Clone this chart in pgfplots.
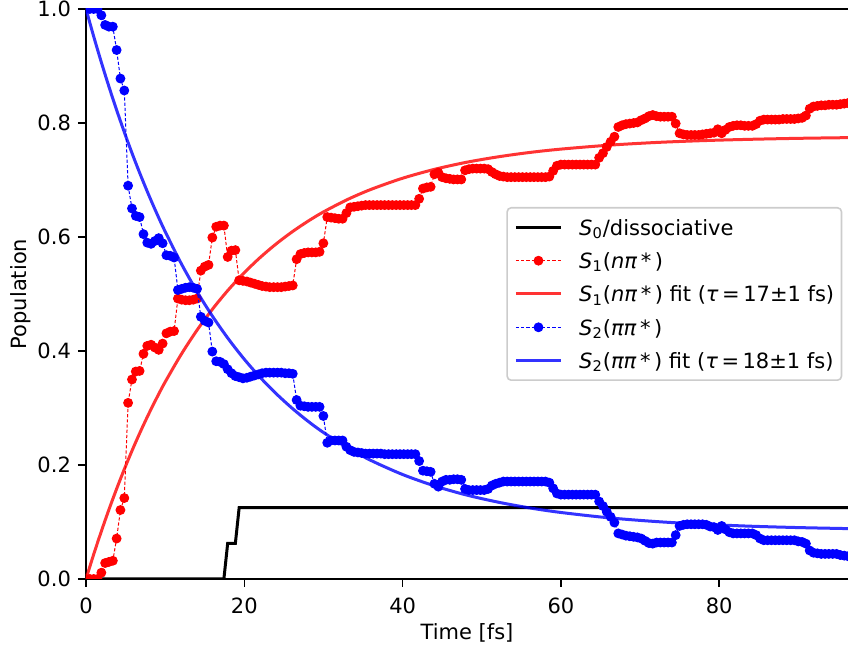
\documentclass[border=0pt]{standalone}
\usepackage{fontspec}
\setmainfont{DejaVu Sans}
\usepackage{pgfplots}
\usepackage{pgfplotstable}
\pgfplotsset{compat=1.18}

% Populations of the excited states (time step 20 a.u. = 0.4838 fs)
\pgfplotstableread{
t s1 s2
0.00 0 1.000
0.48 0 1.000
0.97 0 1.000
1.45 0 1.000
1.94 0.011 0.989
2.42 0.028 0.972
2.90 0.030 0.969
3.39 0.032 0.969
3.87 0.071 0.928
4.35 0.121 0.878
4.84 0.142 0.857
5.32 0.309 0.690
5.81 0.350 0.650
6.29 0.364 0.637
6.77 0.365 0.635
7.26 0.395 0.605
7.74 0.409 0.590
8.22 0.411 0.588
8.71 0.406 0.593
9.19 0.402 0.598
9.68 0.413 0.589
10.16 0.431 0.568
10.64 0.434 0.567
11.13 0.435 0.564
11.61 0.492 0.507
12.09 0.490 0.509
12.58 0.489 0.511
13.06 0.489 0.512
13.55 0.490 0.511
14.03 0.492 0.509
14.51 0.541 0.460
15.00 0.548 0.453
15.48 0.551 0.450
15.96 0.599 0.399
16.45 0.618 0.382
16.93 0.620 0.381
17.42 0.620 0.377
17.90 0.565 0.368
18.38 0.576 0.361
18.87 0.577 0.356
19.35 0.524 0.354
19.83 0.523 0.352
20.32 0.522 0.353
20.80 0.520 0.355
21.29 0.518 0.357
21.77 0.516 0.359
22.25 0.514 0.361
22.74 0.513 0.362
23.22 0.512 0.362
23.71 0.512 0.362
24.19 0.512 0.362
24.67 0.512 0.362
25.16 0.513 0.361
25.64 0.514 0.361
26.12 0.515 0.360
26.61 0.561 0.314
27.09 0.570 0.304
27.58 0.572 0.303
28.06 0.573 0.302
28.54 0.573 0.302
29.03 0.573 0.302
29.51 0.574 0.302
29.99 0.589 0.286
30.48 0.635 0.239
30.96 0.634 0.243
31.45 0.633 0.243
31.93 0.632 0.243
32.41 0.632 0.243
32.90 0.642 0.232
33.38 0.652 0.226
33.86 0.653 0.223
34.35 0.654 0.222
34.83 0.655 0.221
35.32 0.656 0.220
35.80 0.656 0.220
36.28 0.656 0.220
36.77 0.656 0.220
37.25 0.656 0.220
37.73 0.656 0.219
38.22 0.656 0.219
38.70 0.656 0.219
39.19 0.656 0.219
39.67 0.656 0.219
40.15 0.656 0.219
40.64 0.656 0.219
41.12 0.656 0.219
41.61 0.656 0.219
42.09 0.667 0.207
42.57 0.685 0.190
43.06 0.687 0.189
43.54 0.688 0.188
44.02 0.710 0.167
44.51 0.713 0.162
44.99 0.705 0.171
45.48 0.703 0.174
45.96 0.702 0.174
46.44 0.701 0.175
46.93 0.701 0.175
47.41 0.701 0.174
47.89 0.717 0.158
48.38 0.719 0.156
48.86 0.720 0.156
49.35 0.720 0.156
49.83 0.720 0.156
50.31 0.720 0.156
50.80 0.719 0.158
51.28 0.714 0.164
51.76 0.710 0.167
52.25 0.707 0.169
52.73 0.706 0.171
53.22 0.705 0.171
53.70 0.705 0.171
54.18 0.705 0.171
54.67 0.705 0.171
55.15 0.705 0.171
55.63 0.705 0.171
56.12 0.705 0.171
56.60 0.705 0.171
57.09 0.705 0.171
57.57 0.705 0.171
58.05 0.705 0.171
58.54 0.706 0.169
59.02 0.716 0.159
59.50 0.725 0.150
59.99 0.727 0.148
60.47 0.727 0.148
60.96 0.727 0.148
61.44 0.727 0.148
61.92 0.727 0.148
62.41 0.727 0.148
62.89 0.727 0.148
63.38 0.727 0.148
63.86 0.727 0.148
64.34 0.727 0.148
64.83 0.739 0.136
65.31 0.747 0.128
65.79 0.758 0.118
66.28 0.767 0.109
66.76 0.776 0.099
67.25 0.793 0.080
67.73 0.796 0.078
68.21 0.798 0.076
68.70 0.799 0.075
69.18 0.800 0.074
69.66 0.801 0.073
70.15 0.805 0.071
70.63 0.808 0.067
71.12 0.812 0.063
71.60 0.814 0.062
72.08 0.812 0.064
72.57 0.811 0.064
73.05 0.811 0.064
73.54 0.811 0.064
74.02 0.811 0.064
74.50 0.799 0.077
74.99 0.782 0.093
75.47 0.780 0.095
75.95 0.779 0.096
76.44 0.779 0.096
76.92 0.779 0.096
77.40 0.779 0.096
77.89 0.780 0.096
78.37 0.781 0.095
78.86 0.782 0.092
79.34 0.783 0.091
79.82 0.789 0.086
80.31 0.782 0.093
80.79 0.788 0.087
81.28 0.793 0.082
81.76 0.795 0.080
82.24 0.796 0.080
82.73 0.796 0.080
83.21 0.795 0.080
83.69 0.795 0.080
84.18 0.795 0.080
84.66 0.798 0.077
85.15 0.804 0.071
85.63 0.806 0.068
86.11 0.806 0.068
86.60 0.806 0.068
87.08 0.806 0.068
87.56 0.806 0.068
88.05 0.807 0.068
88.53 0.807 0.068
89.02 0.807 0.068
89.50 0.807 0.068
89.98 0.808 0.066
90.47 0.809 0.065
90.95 0.813 0.062
91.43 0.825 0.050
91.92 0.829 0.046
92.40 0.830 0.045
92.89 0.831 0.044
93.37 0.831 0.044
93.85 0.832 0.044
94.34 0.832 0.044
94.82 0.832 0.044
95.30 0.833 0.042
95.79 0.834 0.041
96.27 0.835 0.040
}\popdata

% Exponential fits: S1 = A(1-exp(-t/17)), S2 = B + (1-B)exp(-t/18)
\pgfplotstableread{
t f1 f2
0 0 1.0
1 0.0444 0.9505
2 0.0862 0.9037
3 0.1257 0.8594
4 0.1629 0.8175
5 0.1980 0.7778
6 0.2311 0.7403
7 0.2623 0.7049
8 0.2917 0.6713
9 0.3194 0.6396
10 0.3456 0.6096
12 0.3934 0.5543
14 0.4360 0.5048
16 0.4738 0.4606
18 0.5075 0.4210
20 0.5374 0.3855
22 0.5640 0.3538
24 0.5876 0.3255
26 0.6086 0.3001
28 0.6273 0.2773
30 0.6440 0.2570
33 0.6655 0.2305
36 0.6835 0.2080
40 0.7031 0.1833
44 0.7186 0.1635
48 0.7309 0.1476
52 0.7405 0.1350
56 0.7482 0.1248
60 0.7542 0.1167
66 0.7610 0.1074
72 0.7658 0.1008
78 0.7691 0.0960
84 0.7714 0.0926
90 0.7731 0.0902
96.27 0.7743 0.0884
}\fitdata

\begin{document}
\fontsize{10.5}{12.6}\selectfont
\begin{tikzpicture}
\begin{axis}[
  name=ax,
  scale only axis,
  width=381pt, height=285pt,
  xmin=0, xmax=96.27, ymin=0, ymax=1,
  axis x line*=box, axis y line*=left,
  axis line style={line width=0.8pt, black},
  tick align=outside,
  xtick pos=left, ytick pos=left,
  major tick length=4pt,
  tick style={line width=0.8pt, black},
  xtick={0,20,40,60,80},
  ytick={0,0.2,0.4,0.6,0.8,1.0},
  /pgf/number format/assume math mode=true,
  yticklabel style={/pgf/number format/fixed, /pgf/number format/fixed zerofill,
    /pgf/number format/precision=1, inner sep=0pt, anchor=east},
  xticklabel style={inner sep=0pt, anchor=north},
  xticklabel shift=5.15pt, yticklabel shift=3.35pt,
  xlabel={Time [fs]}, ylabel={Population},
  xlabel style={at={(axis description cs:0.5,-0.0777)}, anchor=north, inner sep=0pt},
  ylabel style={at={(axis description cs:-0.0712,0.5)}, anchor=south, inner sep=0pt},
  clip marker paths=true,
  legend cell align=left,
  legend image code/.code={\draw[mark repeat=2,mark phase=2,#1] plot coordinates {(0pt,0pt) (11.25pt,0pt) (22.5pt,0pt)};},
  legend style={at={(0.9925,0.5)}, anchor=east, draw=black!20, line width=0.8pt,
    rounded corners=2pt, fill=white, inner xsep=3.65pt, inner ysep=5.4pt,
    row sep=7.85pt, nodes={inner sep=0pt, text height=8.3pt, text depth=0.5pt},
    /tikz/every odd column/.append style={column sep=8.35pt}},
]
\addplot[black, line width=1.5pt] coordinates {
  (0,0) (17.42,0) (17.90,0.0625) (18.87,0.0625) (19.35,0.125) (96.27,0.125)};
\addlegendentry{\textit{S}\textsubscript{0}/dissociative}

\addplot[red, line width=0.5pt, dash pattern=on 1.6pt off 1pt,
  mark=*, mark size=2.2pt, mark options={solid, fill=red}]
  table[x=t, y=s1] {\popdata};
\addlegendentry{\textit{S}\textsubscript{1}(\textit{nπ}\,*\,)}

\addplot[red, opacity=0.8, line width=1.5pt, smooth] table[x=t, y=f1] {\fitdata};
\addlegendentry{\textit{S}\textsubscript{1}(\textit{nπ}\,*\,) fit (\textit{τ}\,=\,17±1 fs)}

\addplot[blue, line width=0.5pt, dash pattern=on 1.6pt off 1pt,
  mark=*, mark size=2.2pt, mark options={solid, fill=blue}]
  table[x=t, y=s2] {\popdata};
\addlegendentry{\textit{S}\textsubscript{2}(\textit{ππ}\,*\,)}

\addplot[blue, opacity=0.8, line width=1.5pt, smooth] table[x=t, y=f2] {\fitdata};
\addlegendentry{\textit{S}\textsubscript{2}(\textit{ππ}\,*\,) fit (\textit{τ}\,=\,18±1 fs)}
\end{axis}
\pgfresetboundingbox
\path ([shift={(-43pt,-37pt)}]ax.south west) rectangle ([shift={(0pt,4.5pt)}]ax.north east);
\end{tikzpicture}
\end{document}
